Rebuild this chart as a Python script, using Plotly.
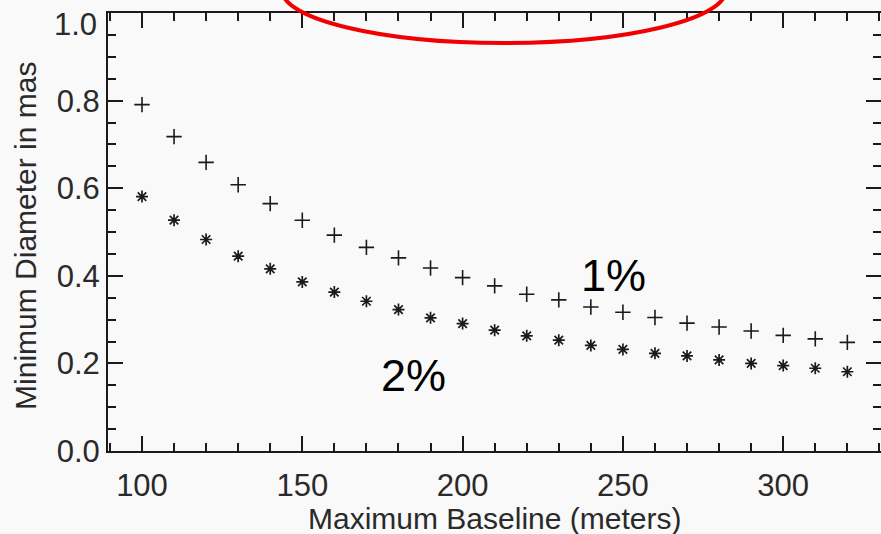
import plotly.graph_objects as go

baseline = [100, 110, 120, 130, 140, 150, 160, 170, 180, 190, 200, 210, 220,
            230, 240, 250, 260, 270, 280, 290, 300, 310, 320]
diam_1pct = [0.791, 0.718, 0.659, 0.608, 0.565, 0.527, 0.493, 0.465, 0.441, 0.418,
             0.396, 0.377, 0.358, 0.345, 0.329, 0.317, 0.305, 0.292, 0.283, 0.274,
             0.264, 0.256, 0.248]
diam_2pct = [0.581, 0.527, 0.483, 0.445, 0.416, 0.386, 0.363, 0.342, 0.323, 0.304,
             0.291, 0.276, 0.263, 0.253, 0.241, 0.232, 0.223, 0.217, 0.208, 0.200,
             0.195, 0.189, 0.181]
y_ticks = [0.0, 0.2, 0.4, 0.6, 0.8, 1.0]
x_ticks = [100, 150, 200, 250, 300]

xlabel = "Maximum Baseline (meters)"
ylabel = "Minimum Diameter in mas"
labels = ["1%", "2%"]

INK = "#1a1a1a"
TXT = "#2a2a2a"
BG = "#f9f9f9"
FONT = "Liberation Sans"

fig = go.Figure()
fig.add_trace(go.Scatter(
    x=baseline, y=diam_1pct, mode="markers", name="1%",
    marker=dict(symbol="cross-thin", size=11, color=INK,
                line=dict(color=INK, width=1.6)),
))
fig.add_trace(go.Scatter(
    x=baseline, y=diam_2pct, mode="markers", name="2%",
    marker=dict(symbol="asterisk", size=10, color=INK,
                line=dict(color=INK, width=1.7)),
))

axis_common = dict(
    showgrid=False, zeroline=False, showline=True, linecolor=INK, linewidth=2,
    mirror="allticks", ticks="inside", tickcolor=INK, tickwidth=1.5, ticklen=15,
    tickfont=dict(family=FONT, size=31, color=TXT), ticklabeloverflow="allow",
    automargin=False,
)

# the top tick label sits lower than its tick (to stay inside the page)
y_ticktext = [f"{v:.1f}" if v < max(y_ticks) else "" for v in y_ticks]

fig.update_layout(
    width=881, height=534,
    margin=dict(l=108, r=0, t=13, b=83, autoexpand=False),
    paper_bgcolor=BG, plot_bgcolor=BG,
    showlegend=False,
    xaxis=dict(range=[89.4, 330.5], tickmode="array", tickvals=x_ticks,
               ticktext=[str(v) for v in x_ticks], ticklabelstandoff=6,
               minor=dict(dtick=10, tick0=0, ticks="inside", ticklen=8, tickcolor=INK, tickwidth=1.5),
               **axis_common),
    yaxis=dict(range=[0, 1.0002], tickmode="array", tickvals=y_ticks,
               ticktext=y_ticktext, ticklabelstandoff=0,
               minor=dict(dtick=0.05, tick0=0, ticks="inside", ticklen=8, tickcolor=INK, tickwidth=1.5),
               **axis_common),
    annotations=[
        dict(text=f"{max(y_ticks):.1f}", xref="paper", yref="y", x=0, y=max(y_ticks),
             xanchor="right", yanchor="middle", xshift=-9, yshift=-11, showarrow=False,
             font=dict(family=FONT, size=31, color=TXT)),
        dict(text=xlabel, xref="paper", yref="paper", x=0.5, y=0, yshift=-67,
             xanchor="center", yanchor="middle", showarrow=False,
             font=dict(family=FONT, size=30, color=TXT)),
        dict(text=ylabel, xref="paper", yref="paper", x=0, y=0.491, xshift=-82,
             xanchor="center", yanchor="middle", textangle=-90, showarrow=False,
             font=dict(family=FONT, size=30, color=TXT)),
        dict(text=labels[0], xref="x", yref="y", x=247.2, y=0.40,
             xanchor="center", yanchor="middle", showarrow=False,
             font=dict(family="Liberation Sans", size=45, color="#000000")),
        dict(text=labels[1], xref="x", yref="y", x=184.7, y=0.173,
             xanchor="center", yanchor="middle", showarrow=False,
             font=dict(family="Liberation Sans", size=45, color="#000000")),
    ],
    shapes=[
        dict(type="circle", xref="paper", yref="paper",
             x0=0.225, x1=0.7995, y0=0.9315, y1=1.1735,
             line=dict(color="#f00000", width=4)),
    ],
)

fig.write_html("out.html")
